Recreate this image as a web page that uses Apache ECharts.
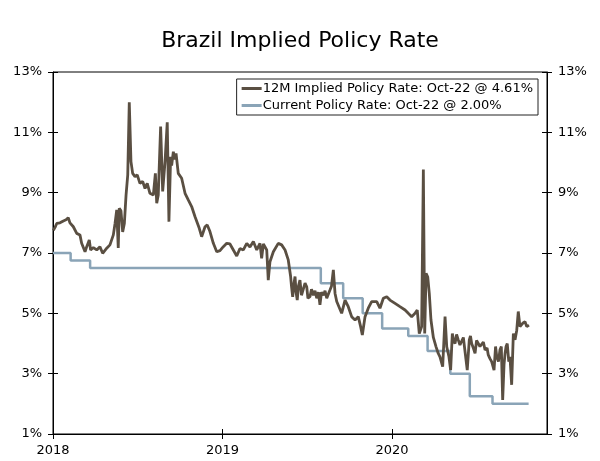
<!DOCTYPE html>
<html>
<head>
<meta charset="utf-8">
<title>Brazil Implied Policy Rate</title>
<script src="https://cdn.jsdelivr.net/npm/echarts@6/dist/echarts.min.js"></script>
<style>
  html, body { margin: 0; padding: 0; background: #fff; }
  #chart { width: 600px; height: 461px; }
</style>
</head>
<body>
<div id="chart"></div>
<script>
// time in decimal years
const implT = [
  2018.002, 2018.012, 2018.022, 2018.041, 2018.061, 2018.077, 2018.090, 2018.100, 2018.120, 2018.140,
  2018.159, 2018.169, 2018.189, 2018.199, 2018.214, 2018.222, 2018.238, 2018.258, 2018.277, 2018.293,
  2018.317, 2018.336, 2018.356, 2018.366, 2018.376, 2018.385, 2018.391, 2018.401, 2018.411, 2018.421,
  2018.431, 2018.441, 2018.450, 2018.460, 2018.470, 2018.484, 2018.497, 2018.513, 2018.529, 2018.543,
  2018.556, 2018.572, 2018.592, 2018.604, 2018.612, 2018.621, 2018.635, 2018.647, 2018.661, 2018.674,
  2018.684, 2018.694, 2018.700, 2018.710, 2018.718, 2018.726, 2018.739, 2018.759, 2018.779, 2018.798,
  2018.818, 2018.838, 2018.863, 2018.877, 2018.897, 2018.910, 2018.926, 2018.946, 2018.966, 2018.985,
  2019.005, 2019.025, 2019.044, 2019.064, 2019.084, 2019.103, 2019.123, 2019.143, 2019.162, 2019.182,
  2019.202, 2019.221, 2019.231, 2019.241, 2019.261, 2019.270, 2019.280, 2019.300, 2019.329, 2019.349,
  2019.369, 2019.388, 2019.402, 2019.407, 2019.414, 2019.422, 2019.428, 2019.434, 2019.441, 2019.448,
  2019.457, 2019.466, 2019.477, 2019.487, 2019.497, 2019.504, 2019.516, 2019.525, 2019.536, 2019.546,
  2019.556, 2019.566, 2019.575, 2019.584, 2019.595, 2019.605, 2019.615, 2019.622, 2019.634, 2019.643,
  2019.654, 2019.664, 2019.674, 2019.683, 2019.703, 2019.723, 2019.742, 2019.762, 2019.782, 2019.801,
  2019.815, 2019.825, 2019.841, 2019.860, 2019.880, 2019.910, 2019.929, 2019.949, 2019.969, 2019.988,
  2020.018, 2020.047, 2020.077, 2020.096, 2020.116, 2020.136, 2020.149, 2020.161, 2020.175, 2020.185,
  2020.193, 2020.201, 2020.211, 2020.220, 2020.230, 2020.244, 2020.260, 2020.273, 2020.283, 2020.299,
  2020.313, 2020.323, 2020.336, 2020.346, 2020.356, 2020.363, 2020.372, 2020.381, 2020.391, 2020.401,
  2020.411, 2020.421, 2020.431, 2020.444, 2020.456, 2020.463, 2020.470, 2020.480, 2020.490, 2020.499,
  2020.509, 2020.519, 2020.529, 2020.539, 2020.549, 2020.561, 2020.568, 2020.578, 2020.588, 2020.602,
  2020.611, 2020.618, 2020.628, 2020.637, 2020.645, 2020.653, 2020.661, 2020.667, 2020.673, 2020.680,
  2020.689, 2020.696, 2020.706, 2020.716, 2020.726, 2020.736, 2020.745, 2020.755, 2020.771, 2020.785,
  2020.795, 2020.808
];
const implRate = [
  7.75, 7.85, 7.98, 8.00, 8.06, 8.10, 8.17, 8.00, 7.87, 7.65,
  7.60, 7.32, 7.04, 7.21, 7.43, 7.10, 7.18, 7.10, 7.21, 6.99,
  7.16, 7.27, 7.60, 7.98, 8.43, 7.17, 8.48, 8.40, 7.70, 7.98,
  8.92, 9.59, 12.00, 10.03, 9.64, 9.53, 9.59, 9.31, 9.37, 9.14,
  9.31, 8.98, 8.92, 9.64, 8.65, 8.92, 11.19, 9.04, 10.03, 11.33,
  8.04, 10.19, 9.90, 10.36, 10.10, 10.30, 9.64, 9.48, 8.98, 8.76,
  8.54, 8.20, 7.82, 7.54, 7.87, 7.93, 7.71, 7.32, 7.04, 7.08,
  7.21, 7.32, 7.30, 7.10, 6.90, 7.15, 7.10, 7.32, 7.20, 7.38,
  7.10, 7.32, 6.82, 7.30, 7.10, 6.10, 6.71, 7.04, 7.32, 7.27,
  7.10, 6.77, 6.22, 5.90, 5.55, 6.00, 6.22, 5.70, 5.44, 5.90,
  6.10, 5.60, 5.66, 6.00, 5.88, 5.50, 5.55, 5.80, 5.60, 5.75,
  5.50, 5.70, 5.28, 5.70, 5.60, 5.75, 5.50, 5.55, 5.77, 5.90,
  6.44, 5.66, 5.39, 5.44, 5.00, 5.44, 5.22, 4.89, 4.78, 4.89,
  4.56, 4.28, 4.89, 5.17, 5.39, 5.39, 5.17, 5.50, 5.55, 5.44,
  5.33, 5.22, 5.11, 5.00, 4.89, 5.00, 5.11, 4.33, 4.56, 9.77,
  4.33, 6.33, 6.20, 5.66, 4.78, 4.20, 3.89, 3.67, 3.56, 3.23,
  4.89, 3.89, 3.56, 3.12, 4.33, 4.10, 4.00, 4.30, 4.12, 3.95,
  3.89, 4.20, 4.23, 3.12, 4.12, 4.25, 4.00, 3.85, 3.67, 4.10,
  4.00, 3.90, 3.84, 4.05, 3.79, 3.85, 3.62, 3.50, 3.40, 3.12,
  3.90, 3.56, 3.40, 3.79, 3.90, 2.13, 3.30, 3.67, 3.90, 4.00,
  3.40, 3.56, 2.63, 4.33, 4.12, 4.44, 5.06, 4.56, 4.67, 4.72,
  4.56, 4.61
];

// Selic target: value holds from each date until the next one
const policyT = [2018.0, 2018.104, 2018.219, 2019.580, 2019.712, 2019.827, 2019.942, 2020.096, 2020.210, 2020.344, 2020.459, 2020.593, 2020.806];
const policyRate = [7.00, 6.75, 6.50, 6.00, 5.50, 5.00, 4.50, 4.25, 3.75, 3.00, 2.25, 2.00, 2.00];

const yTicks = ['1%', '3%', '5%', '7%', '9%', '11%', '13%'];

const chart = echarts.init(document.getElementById('chart'));
const font = 'DejaVu Sans, Verdana, sans-serif';
const brown = '#5a4f42';
const blue = '#8aa4b7';

const zip = (a, b) => a.map((t, i) => [t, b[i]]).sort((p, q) => p[0] - q[0]);

const yBase = {
  type: 'value', min: 1, max: 13, interval: 2,
  splitLine: { show: false }
};
const xBase = {
  type: 'value', min: 2018, max: 2020.9145, interval: 1,
  splitLine: { show: false }
};

chart.setOption({
  animation: false,
  title: {
    text: 'Brazil Implied Policy Rate',
    left: 'center', top: 25,
    textStyle: { fontFamily: font, fontSize: 22, fontWeight: 'normal', color: '#000' }
  },
  legend: {
    orient: 'vertical',
    right: 62, top: 79,
    backgroundColor: '#fff',
    borderColor: '#222', borderWidth: 1,
    padding: [3, 5, 3, 5],
    itemGap: 4, itemWidth: 20, itemHeight: 3,
    textStyle: { fontFamily: font, fontSize: 13, color: '#000', padding: [0, 0, 0, -4] },
    data: [
      { name: '12M Implied Policy Rate: Oct-22 @ 4.61%', icon: 'rect', itemStyle: { color: brown } },
      { name: 'Current Policy Rate: Oct-22 @ 2.00%', icon: 'rect', itemStyle: { color: blue } }
    ]
  },
  grid: {
    left: 53, right: 53, top: 72, bottom: 27,
    show: true, borderColor: '#000', borderWidth: 1
  },
  xAxis: [
    Object.assign({}, xBase, {
      axisLine: { show: true, lineStyle: { color: '#000', width: 1 } },
      axisTick: { show: true, length: 5, lineStyle: { color: '#000' } },
      axisLabel: {
        fontFamily: font, fontSize: 13, color: '#000', margin: 10,
        showMaxLabel: false,
        formatter: v => (Number.isInteger(v) ? String(v) : '')
      }
    }),
    Object.assign({}, xBase, {
      position: 'bottom',
      axisLine: { show: false },
      axisTick: { show: true, inside: true, length: 5, lineStyle: { color: '#000' } },
      axisLabel: { show: false }
    })
  ],
  yAxis: [
    Object.assign({}, yBase, {
      position: 'left',
      axisLine: { show: true, lineStyle: { color: '#000', width: 1 } },
      axisTick: { show: true, length: 5, lineStyle: { color: '#000' } },
      axisLabel: {
        fontFamily: font, fontSize: 13, color: '#000', margin: 11,
        formatter: v => yTicks[(v - 1) / 2]
      }
    }),
    Object.assign({}, yBase, {
      position: 'right',
      axisLine: { show: true, lineStyle: { color: '#000', width: 1 } },
      axisTick: { show: true, length: 5, lineStyle: { color: '#000' } },
      axisLabel: {
        fontFamily: font, fontSize: 13, color: '#000', margin: 11,
        formatter: v => yTicks[(v - 1) / 2]
      }
    }),
    Object.assign({}, yBase, {
      position: 'left',
      axisLine: { show: false },
      axisTick: { show: true, inside: true, length: 5, lineStyle: { color: '#000' } },
      axisLabel: { show: false }
    }),
    Object.assign({}, yBase, {
      position: 'right',
      axisLine: { show: false },
      axisTick: { show: true, inside: true, length: 5, lineStyle: { color: '#000' } },
      axisLabel: { show: false }
    })
  ],
  series: [
    {
      name: 'Current Policy Rate: Oct-22 @ 2.00%',
      type: 'line',
      step: 'end',
      data: zip(policyT, policyRate),
      showSymbol: false, symbol: 'none',
      lineStyle: { color: blue, width: 2.5 },
      itemStyle: { color: blue },
      z: 2
    },
    {
      name: '12M Implied Policy Rate: Oct-22 @ 4.61%',
      type: 'line',
      data: zip(implT, implRate),
      showSymbol: false, symbol: 'none',
      lineStyle: { color: brown, width: 2.8 },
      itemStyle: { color: brown },
      z: 3
    }
  ]
});
</script>
</body>
</html>
